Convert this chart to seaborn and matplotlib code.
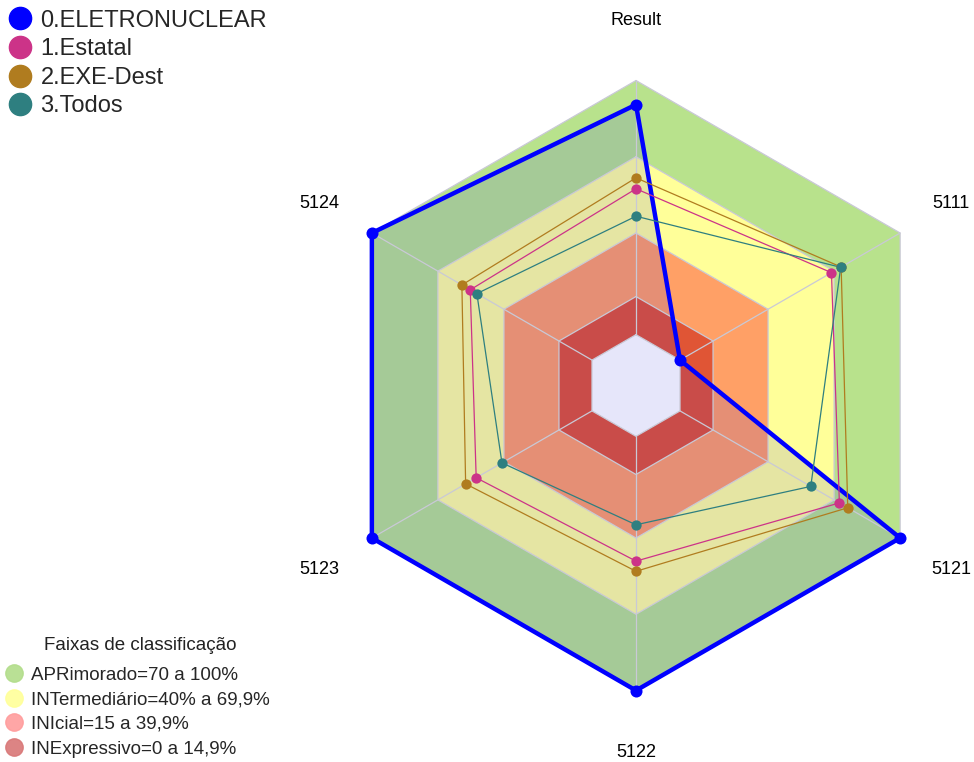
import numpy as np
import pandas as pd
import seaborn as sns
import matplotlib.pyplot as plt
from matplotlib.lines import Line2D


categories = ['Result', '5111', '5121', '5122', '5123', '5124']

eletronuclear = [90.5, 0, 100, 100, 100, 100]
estatal = [57.4, 68.8, 72.4, 49.1, 52.6, 55.3]
exe_dest = [61.7, 73.2, 76.2, 53.1, 57.4, 59.1]
todos = [46.6, 73.0, 59.4, 34.8, 40.9, 52.3]

series_names = ['0.ELETRONUCLEAR', '1.Estatal', '2.EXE-Dest', '3.Todos']
series_colors = ['#0000ff', '#cc3388', '#b07c1f', '#2e7f80']

band_levels = [100, 70, 40, 15]
band_colors = ['#b8e28c', '#ffff99', '#ffa066', '#e05535']
band_labels = ['APRimorado=70 a 100%', 'INTermediário=40% a 69,9%',
               'INIcial=15 a 39,9%', 'INExpressivo=0 a 14,9%']
band_legend_colors = ['#b2dd8a', '#ffff99', '#ff9c9c', '#d97777']


def build_long(closed=True):
    rows = []
    n = len(categories)
    for name, vals in zip(series_names, [eletronuclear, estatal, exe_dest, todos]):
        idx = list(range(n)) + ([0] if closed else [])
        for k, i in enumerate(idx):
            theta = 2 * np.pi * (i if k < n else n) / n
            rows.append({'serie': name, 'theta': theta, 'value': vals[i], 'order': k})
    return pd.DataFrame(rows)


sns.set_theme(style='white')
plt.rcParams['font.family'] = ['Liberation Sans', 'DejaVu Sans']

fig = plt.figure(figsize=(9.74, 7.62), dpi=100)
# center ~ (636, 385) px, outer radius ~305 px
ax = fig.add_axes([(636 - 305) / 974, (762 - 385.5 - 305) / 762, 610 / 974, 610 / 762],
                  projection='polar')
ax.set_theta_zero_location('N')
ax.set_theta_direction(-1)
ax.set_ylim(0, 100)
ax.set_rorigin(-20)

n = len(categories)
hex_theta = np.linspace(0, 2 * np.pi, n + 1)

# classification bands
for lvl, col in zip(band_levels, band_colors):
    ax.fill(hex_theta, [lvl] * (n + 1), color=col, lw=0, zorder=1, clip_on=False)

# fill of the main series
ax.fill(hex_theta, eletronuclear + [eletronuclear[0]], color='#0000ff', alpha=0.1,
        lw=0, zorder=2, clip_on=False)

# hole
ax.fill(hex_theta, [0] * (n + 1), color='#e6e6fa', lw=0, zorder=3, clip_on=False)

# grid
for lvl in [0] + band_levels:
    ax.plot(hex_theta, [lvl] * (n + 1), color='#c9c9d6', lw=0.9, zorder=4, clip_on=False)
for t in hex_theta[:-1]:
    ax.plot([t, t], [0, 100], color='#c9c9d6', lw=0.9, zorder=4, clip_on=False)

df_line = build_long(closed=True)
df_pts = build_long(closed=False)
pal = dict(zip(series_names, series_colors))

main = series_names[0]
sns.lineplot(data=df_line[df_line.serie == main], x='theta', y='value', color=pal[main],
             sort=False, estimator=None, lw=3.2, legend=False, ax=ax, zorder=5, clip_on=False)
sns.scatterplot(data=df_pts[df_pts.serie == main], x='theta', y='value', color=pal[main],
                s=75, linewidth=0, legend=False, ax=ax, zorder=6, clip_on=False)

for name in series_names[1:]:
    sns.lineplot(data=df_line[df_line.serie == name], x='theta', y='value', color=pal[name],
                 sort=False, estimator=None, lw=0.9, legend=False, ax=ax, zorder=7, clip_on=False)
    sns.scatterplot(data=df_pts[df_pts.serie == name], x='theta', y='value', color=pal[name],
                    s=55, linewidth=0, legend=False, ax=ax, zorder=8, clip_on=False)

ax.set_ylim(0, 100)
ax.set_axis_off()

# angular labels, offset from the outer vertices
label_off = [(0, 60), (51, 30), (51, -31), (0, -62), (-53, -31), (-53, 30)]
for t, lab, off in zip(hex_theta[:-1], categories, label_off):
    ax.annotate(lab, xy=(t, 100), xytext=off, textcoords='offset pixels',
                ha='center', va='center', fontsize=13, color='black', annotation_clip=False)

# legends
h1 = [Line2D([], [], marker='o', ls='', color=c, markersize=16) for c in series_colors]
fig.legend(h1, series_names, loc='upper left', bbox_to_anchor=(-0.006, 1.006), frameon=False,
           fontsize=17, handlelength=1.0, handletextpad=0.36, labelspacing=0.28,
           borderaxespad=0.2)

h2 = [Line2D([], [], marker='o', ls='', markerfacecolor=c, markeredgecolor=c,
             markersize=12.5, alpha=0.9) for c in band_legend_colors]
fig.legend(h2, band_labels, loc='lower left', bbox_to_anchor=(-0.006, -0.009), frameon=False,
           fontsize=13.5, handlelength=0.9, handletextpad=0.45, labelspacing=0.4,
           borderaxespad=0.2)
fig.text(140 / 974, 1 - 645 / 762, 'Faixas de classificação', ha='center', va='center',
         fontsize=13.5, color='#222222')

fig.savefig('out.png', dpi=100)
